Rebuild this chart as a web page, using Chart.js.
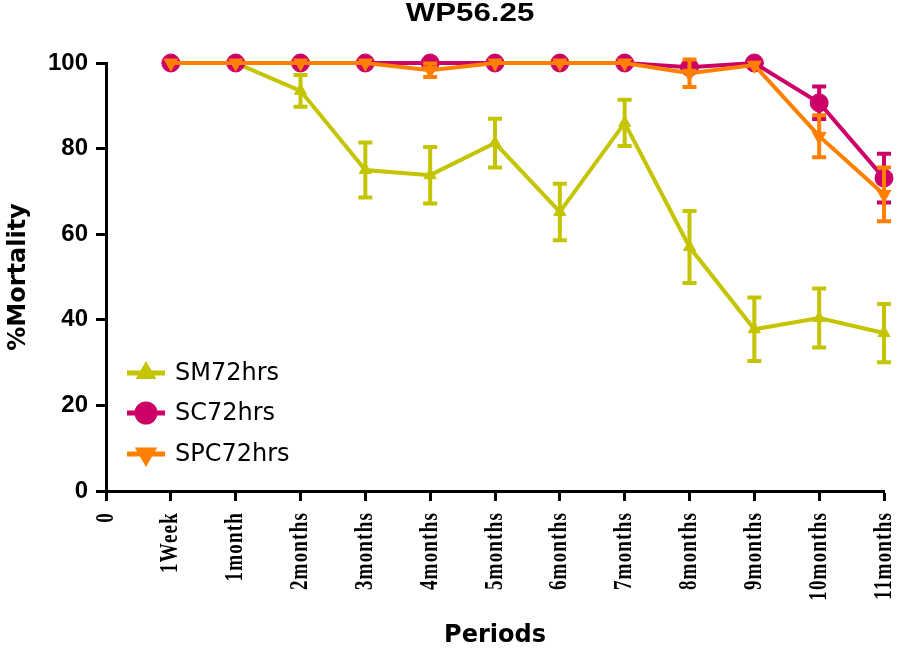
<!DOCTYPE html>
<html>
<head>
<meta charset="utf-8">
<script src="https://cdn.jsdelivr.net/npm/chart.js@4/dist/chart.umd.min.js"></script>
<style>
  html, body { margin: 0; padding: 0; background: #fff; }
  #wrap { width: 898px; height: 650px; }
</style>
</head>
<body>
<div id="wrap"><canvas id="c" width="898" height="650"></canvas></div>
<script>
const chartTitle = 'WP56.25';
const categories = ['0','1Week','1month','2months','3months','4months','5months','6months','7months','8months','9months','10months','11months'];
const yTicks = [0, 20, 40, 60, 80, 100];
const seriesNames = ['SM72hrs', 'SC72hrs', 'SPC72hrs'];
const smMean = [null, 100, 100, 93.5, 75.0, 73.8, 81.3, 65.2, 86.0, 57.0, 37.8, 40.4, 36.9];
const smErr  = [null, 0, 0, 3.7, 6.4, 6.6, 5.7, 6.6, 5.4, 8.4, 7.4, 6.9, 6.8];
const scMean = [null, 100, 100, 100, 100, 100, 100, 100, 100, 99.0, 100, 90.7, 73.1];
const scErr  = [null, 0, 0, 0, 0, 0, 0, 0, 0, 0.8, 0, 3.8, 5.7];
const spcMean = [null, 100, 100, 100, 100, 98.3, 100, 100, 100, 97.6, 99.5, 82.9, 69.3];
const spcErr  = [null, 0, 0, 0, 0, 1.6, 0, 0, 0, 3.2, 0, 4.9, 6.3];

const colors = ['#c4c400', '#cc0066', '#ff8000'];
const styles = [
  { pointStyle: 'triangle', rotation: 0, radius: 7 },
  { pointStyle: 'circle', rotation: 0, radius: 9 },
  { pointStyle: 'triangle', rotation: 180, radius: 8 }
];

const errorBarPlugin = {
  id: 'errorBars',
  beforeDatasetDraw(chart, args) {
    const ds = chart.data.datasets[args.index];
    const errs = ds.errorBars;
    if (!errs) return;
    const ctx = chart.ctx, xs = chart.scales.x, ys = chart.scales.y;
    ctx.save();
    ctx.strokeStyle = ds.borderColor;
    ctx.lineWidth = 4;
    ctx.lineCap = 'butt';
    ds.data.forEach((v, i) => {
      const e = errs[i];
      if (v == null || !e) return;
      const px = xs.getPixelForValue(i);
      const t = ys.getPixelForValue(v + e);
      const b = ys.getPixelForValue(v - e);
      ctx.beginPath();
      ctx.moveTo(px, t); ctx.lineTo(px, b);
      ctx.moveTo(px - 7, t); ctx.lineTo(px + 7, t);
      ctx.moveTo(px - 7, b); ctx.lineTo(px + 7, b);
      ctx.stroke();
    });
    ctx.restore();
  }
};

const titleLegendPlugin = {
  id: 'titleLegend',
  afterDraw(chart) {
    const ctx = chart.ctx;
    const xs = chart.scales.x;
    // title
    ctx.save();
    ctx.fillStyle = '#000';
    ctx.font = 'bold 25px "Liberation Sans", Arial, sans-serif';
    ctx.textAlign = 'center';
    ctx.textBaseline = 'middle';
    ctx.translate(470, 14);
    ctx.scale(1.25, 1);
    ctx.fillText(chartTitle, 0, 0);
    ctx.restore();

    // x tick labels (rotated, slightly widened glyphs)
    categories.forEach((lab, i) => {
      const px = xs.getPixelForValue(i);
      ctx.save();
      ctx.fillStyle = '#000';
      ctx.font = 'bold 19px "Liberation Serif", "Times New Roman", serif';
      if ('letterSpacing' in ctx) ctx.letterSpacing = '1.2px';
      ctx.translate(px, 512);
      ctx.rotate(-Math.PI / 2);
      ctx.scale(1, 1.35);
      ctx.textAlign = 'right';
      ctx.textBaseline = 'middle';
      ctx.fillText(lab, 0, 0);
      ctx.restore();
    });

    // legend
    const ys0 = [373, 413, 454];
    chart.data.datasets.forEach((ds, i) => {
      const y = ys0[i];
      ctx.save();
      ctx.strokeStyle = ds.borderColor;
      ctx.fillStyle = ds.borderColor;
      ctx.lineWidth = 5;
      ctx.beginPath();
      ctx.moveTo(127, y); ctx.lineTo(165, y);
      ctx.stroke();
      Chart.helpers.drawPoint(ctx, {
        pointStyle: ds.pointStyle, rotation: ds.pointRotation,
        radius: ds.pointRadius, borderWidth: 1
      }, 146, y);
      ctx.fillStyle = '#000';
      ctx.font = '24px "DejaVu Sans", sans-serif';
      ctx.textAlign = 'left';
      ctx.textBaseline = 'middle';
      ctx.fillText(ds.label, 175, y + 1);
      ctx.restore();
    });
  }
};

const means = [smMean, scMean, spcMean];
const errs = [smErr, scErr, spcErr];
const orders = [3, 2, 1];

const datasets = seriesNames.map((name, i) => ({
  label: name,
  data: means[i],
  errorBars: errs[i],
  borderColor: colors[i],
  backgroundColor: colors[i],
  pointBackgroundColor: colors[i],
  pointBorderColor: colors[i],
  borderWidth: 4,
  pointStyle: styles[i].pointStyle,
  pointRotation: styles[i].rotation,
  pointRadius: styles[i].radius,
  pointBorderWidth: 1,
  tension: 0,
  clip: false,
  order: orders[i]
}));

new Chart(document.getElementById('c'), {
  type: 'line',
  data: { labels: categories, datasets },
  options: {
    responsive: false,
    animation: false,
    layout: { padding: { top: 63, right: 14, bottom: 0, left: 0 } },
    plugins: {
      legend: { display: false },
      title: { display: false },
      tooltip: { enabled: false }
    },
    scales: {
      x: {
        type: 'category',
        offset: false,
        afterFit(s) { s.height = 159; },
        border: { display: true, color: '#000', width: 3 },
        grid: { display: true, drawOnChartArea: false, drawTicks: true, tickLength: 10, tickColor: '#000', tickWidth: 3, color: '#000' },
        ticks: { display: false, autoSkip: false },
        title: {
          display: true, text: 'Periods', color: '#000',
          font: { family: '"DejaVu Sans", sans-serif', size: 24, weight: 'bold' },
          padding: { top: 0, bottom: 0 }
        }
      },
      y: {
        min: 0, max: 100,
        afterFit(s) { s.width = 106; },
        afterBuildTicks(s) { s.ticks = yTicks.map(v => ({ value: v })); },
        border: { display: true, color: '#000', width: 3 },
        grid: { display: true, drawOnChartArea: false, drawTicks: true, tickLength: 10, tickColor: '#000', tickWidth: 3, color: '#000' },
        ticks: {
          padding: 8, color: '#000',
          font: { family: '"Liberation Sans", Arial, sans-serif', size: 24, weight: 'bold' }
        },
        title: {
          display: true, text: '%Mortality', color: '#000',
          font: { family: '"DejaVu Sans", sans-serif', size: 24, weight: 'bold' },
          padding: { top: 4, bottom: 0 }
        }
      }
    }
  },
  plugins: [errorBarPlugin, titleLegendPlugin]
});
</script>
</body>
</html>
